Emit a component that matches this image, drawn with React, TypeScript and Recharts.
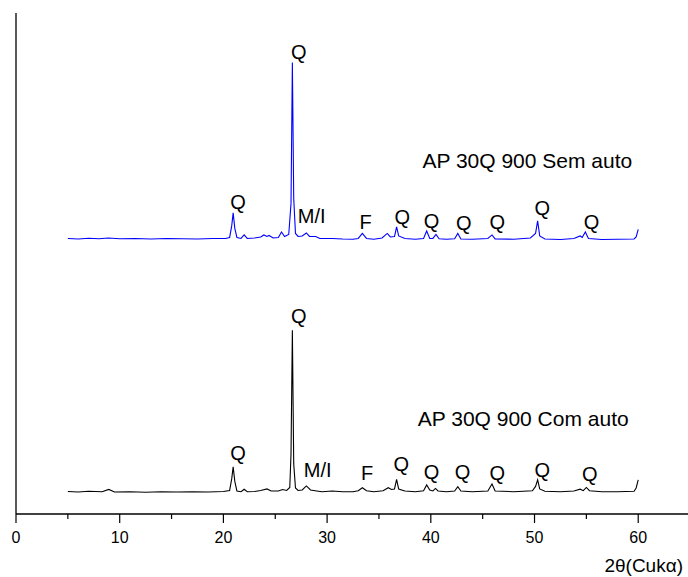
import React from 'react';
import { LineChart, Line, XAxis, YAxis, ReferenceDot } from 'recharts';

// 2θ positions and intensities (offset units) for "Sem auto" (blue, top)
const semTheta = [5.0, 6, 7, 8, 8.9, 10, 11.5, 13, 14.5, 16, 17.5, 19, 20.2, 20.6, 20.8, 20.94, 21.1, 21.3, 21.7, 22.0, 22.3, 23.0, 23.6, 23.9, 24.2, 24.4, 24.8, 25.3, 25.6, 25.9, 26.3, 26.52, 26.65, 26.78, 26.95, 27.2, 27.6, 28.0, 28.3, 28.9, 29.3, 30.5, 31.5, 32.5, 33.0, 33.4, 33.8, 34.5, 35.3, 35.8, 36.1, 36.5, 36.7, 36.9, 37.5, 38.5, 39.3, 39.6, 39.9, 40.2, 40.5, 40.8, 41.5, 42.3, 42.6, 42.9, 44, 45.5, 45.9, 46.2, 48, 49.6, 50.1, 50.3, 50.5, 51, 52.5, 53.8, 54.4, 54.6, 54.9, 55.2, 56.5, 58, 59.6, 59.8, 60.0];
const semIntensity = [55.0, 54.9, 55.05, 54.95, 55.1, 54.95, 55.0, 54.9, 55.0, 54.95, 54.9, 55.0, 55.0, 55.2, 57.5, 60.1, 57.0, 55.2, 55.0, 55.7, 55.0, 55.1, 55.3, 55.7, 55.4, 55.6, 55.1, 55.2, 56.3, 55.4, 55.8, 62, 90.1, 63, 56, 55.4, 55.5, 56.1, 55.4, 55.4, 55.0, 55.0, 54.9, 54.85, 55.0, 56.0, 55.0, 54.85, 55.1, 56.0, 55.3, 55.4, 57.3, 55.5, 55.0, 54.85, 55.0, 56.5, 55.0, 55.0, 55.8, 54.95, 54.85, 54.95, 56.0, 54.9, 54.85, 55.0, 55.7, 54.9, 54.85, 55.1, 56.0, 58.5, 55.5, 54.9, 54.8, 55.0, 55.5, 55.2, 56.3, 55.0, 54.8, 54.85, 54.9, 55.3, 56.8];

// "Com auto" (black, bottom)
const comTheta = [5.0, 6, 7, 8.3, 8.95, 9.5, 11, 12.5, 14, 15.5, 17, 18.5, 20.0, 20.6, 20.8, 20.94, 21.1, 21.3, 21.7, 22.0, 22.3, 23.0, 23.6, 24.2, 24.6, 25.3, 25.7, 26.1, 26.4, 26.52, 26.65, 26.78, 26.95, 27.2, 27.6, 28.0, 28.4, 29.0, 29.5, 30.5, 31.5, 32.5, 33.0, 33.4, 33.8, 34.5, 35.4, 35.9, 36.2, 36.5, 36.7, 36.9, 37.5, 38.5, 39.3, 39.6, 39.9, 40.2, 40.45, 40.7, 41.5, 42.3, 42.6, 42.9, 44, 45.5, 45.9, 46.2, 48, 49.8, 50.1, 50.3, 50.5, 51, 52.5, 53.8, 54.4, 54.7, 55.0, 55.3, 56.5, 58, 59.6, 59.8, 60.0];
const comIntensity = [4.5, 4.4, 4.55, 4.45, 4.9, 4.4, 4.45, 4.35, 4.45, 4.4, 4.45, 4.4, 4.5, 4.7, 7.0, 9.4, 6.5, 4.6, 4.45, 4.95, 4.45, 4.5, 4.7, 5.0, 4.6, 4.6, 4.9, 4.7, 5.3, 12, 36.7, 10, 5.2, 4.7, 4.8, 5.6, 4.8, 4.6, 4.45, 4.6, 4.45, 4.45, 4.65, 5.25, 4.65, 4.45, 4.65, 5.25, 4.9, 5.0, 6.9, 5.0, 4.6, 4.45, 4.65, 5.8, 4.8, 4.6, 5.1, 4.6, 4.45, 4.6, 5.45, 4.6, 4.45, 4.6, 6.0, 4.6, 4.45, 4.65, 5.5, 6.8, 5.0, 4.55, 4.45, 4.6, 4.95, 4.65, 5.3, 4.65, 4.45, 4.45, 4.55, 5.2, 6.8];

const xTicks = [0, 5, 10, 15, 20, 25, 30, 35, 40, 45, 50, 55, 60];

// phase annotations
const semLabels = [
  { text: 'Q', x: 27.26, y: 92.3 },
  { text: 'Q', x: 21.41, y: 62.3 },
  { text: 'M/I', x: 28.51, y: 59.5 },
  { text: 'F', x: 33.72, y: 58.3 },
  { text: 'Q', x: 37.26, y: 59.3 },
  { text: 'Q', x: 40.06, y: 58.5 },
  { text: 'Q', x: 43.17, y: 58.2 },
  { text: 'Q', x: 46.42, y: 58.3 },
  { text: 'Q', x: 50.76, y: 61.2 },
  { text: 'Q', x: 55.49, y: 58.3 },
];
const comLabels = [
  { text: 'Q', x: 27.26, y: 39.6 },
  { text: 'Q', x: 21.41, y: 12.2 },
  { text: 'M/I', x: 29.09, y: 8.9 },
  { text: 'F', x: 33.85, y: 8.2 },
  { text: 'Q', x: 37.16, y: 10.1 },
  { text: 'Q', x: 40.06, y: 8.4 },
  { text: 'Q', x: 43.05, y: 8.4 },
  { text: 'Q', x: 46.42, y: 8.2 },
  { text: 'Q', x: 50.76, y: 8.9 },
  { text: 'Q', x: 55.32, y: 8.1 },
];
const seriesNames = [
  { text: 'AP 30Q 900 Sem auto', x: 39.19, y: 70.5 },
  { text: 'AP 30Q 900 Com auto', x: 38.74, y: 19.0 },
];

const FONT = '"Liberation Sans", Arial, sans-serif';

const semData = semTheta.map((x, i) => ({ x, y: semIntensity[i] }));
const comData = comTheta.map((x, i) => ({ x, y: comIntensity[i] }));

const Tick = ({ x, y, payload }: any) => {
  const major = payload.value % 10 === 0;
  return (
    <g>
      <line x1={x} x2={x} y1={y} y2={y + (major ? 9 : 5)} stroke="#000" strokeWidth={1.2} />
      {major && (
        <text x={x} y={y + 29} textAnchor="middle" fontSize={16} fontFamily={FONT} fill="#000">
          {payload.value}
        </text>
      )}
    </g>
  );
};

const textShape = (text: string, anchor: string, size: number) => (p: any) => (
  <text
    x={p.cx}
    y={p.cy}
    dy="0.36em"
    textAnchor={anchor}
    fontSize={size}
    fontFamily={FONT}
    fill="#000"
  >
    {text}
  </text>
);

export default function App() {
  return (
    <div style={{ position: 'absolute', left: 0, top: 0, background: '#fff' }}>
      <LineChart width={688} height={577} margin={{ top: 13, right: 0, left: 15, bottom: 0 }}>
        <XAxis
          type="number"
          dataKey="x"
          domain={[0, 64.8]}
          ticks={xTicks}
          allowDataOverflow
          tickSize={0}
          tickMargin={0}
          tickLine={false}
          tick={<Tick />}
          height={63}
          axisLine={{ stroke: '#000', strokeWidth: 1.3 }}
          label={{
            value: '2θ(Cukα)',
            position: 'insideBottomRight',
            offset: 5,
            fontSize: 19,
            fontFamily: FONT,
            fill: '#000',
          }}
        />
        <YAxis
          type="number"
          domain={[0, 100]}
          width={1}
          tick={false}
          tickLine={false}
          axisLine={{ stroke: '#000', strokeWidth: 1.3 }}
        />
        <Line
          data={semData}
          dataKey="y"
          stroke="#0000ff"
          strokeWidth={1.1}
          dot={false}
          isAnimationActive={false}
        />
        <Line
          data={comData}
          dataKey="y"
          stroke="#000000"
          strokeWidth={1.1}
          dot={false}
          isAnimationActive={false}
        />
        {[...semLabels, ...comLabels].map((l, i) => (
          <ReferenceDot
            key={`lbl-${i}`}
            x={l.x}
            y={l.y}
            r={1}
            ifOverflow="visible"
            shape={textShape(l.text, 'middle', 20)}
          />
        ))}
        {seriesNames.map((l, i) => (
          <ReferenceDot
            key={`name-${i}`}
            x={l.x}
            y={l.y}
            r={1}
            ifOverflow="visible"
            shape={textShape(l.text, 'start', 21)}
          />
        ))}
      </LineChart>
    </div>
  );
}
